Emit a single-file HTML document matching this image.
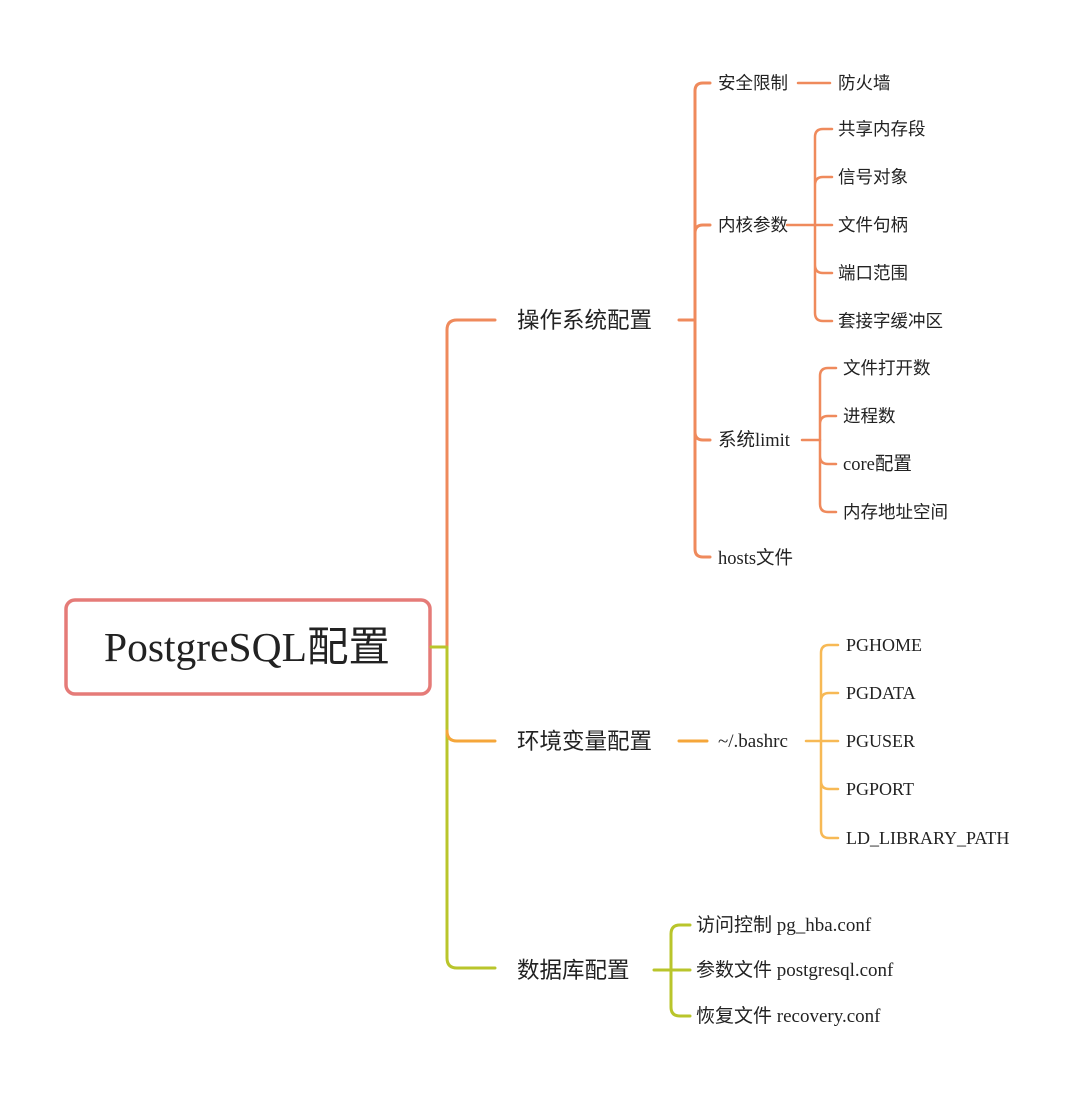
<!DOCTYPE html>
<html><head><meta charset="utf-8"><style>
html,body{margin:0;padding:0;background:#fff;}
svg{display:block;}
.s{font-family:"Liberation Sans","Noto Sans CJK SC",sans-serif;fill:#222;}
.f{font-family:"Liberation Serif","Noto Sans CJK SC",serif;fill:#222;}
</style></head><body>
<svg width="1080" height="1100" viewBox="0 0 1080 1100" xmlns="http://www.w3.org/2000/svg">
<g fill="none" stroke-linecap="round" stroke-width="3">
  <rect x="66" y="600" width="364" height="94" rx="9" stroke="#e57b78" stroke-width="3.5"/>
  <line x1="431" y1="647" x2="447" y2="647" stroke="#b9c52b"/>
  <path d="M447 647 V330 Q447 320 457 320 H495" stroke="#ef8a5c"/>
  <path d="M447 647 V958 Q447 968 457 968 H495" stroke="#b9c52b"/>
  <path d="M447 731 Q447 741 457 741 H495" stroke="#f5a63a"/>

  <line x1="679" y1="320" x2="693" y2="320" stroke="#ef8a5c"/>
  <path d="M710 83 H703 Q695 83 695 91 V549 Q695 557 703 557 H710" stroke="#ef8a5c"/>
  <path d="M695 233 Q695 225 703 225 H710 M695 432 Q695 440 703 440 H710" stroke="#ef8a5c"/>
  <line x1="798" y1="83" x2="830" y2="83" stroke="#ef8a5c" stroke-width="2.5"/>
  <line x1="787" y1="225" x2="832" y2="225" stroke="#ef8a5c" stroke-width="2.5"/>
  <path d="M832 129 H823 Q815 129 815 137 V313 Q815 321 823 321 H832 M815 185 Q815 177 823 177 H832 M815 265 Q815 273 823 273 H832" stroke="#ef8a5c" stroke-width="2.5"/>
  <line x1="802" y1="440" x2="820" y2="440" stroke="#ef8a5c" stroke-width="2.5"/>
  <path d="M836 368 H828 Q820 368 820 376 V504 Q820 512 828 512 H836 M820 424 Q820 416 828 416 H836 M820 456 Q820 464 828 464 H836" stroke="#ef8a5c" stroke-width="2.5"/>

  <line x1="679" y1="741" x2="707" y2="741" stroke="#f5a63a"/>
  <line x1="806" y1="741" x2="838" y2="741" stroke="#f7b955" stroke-width="2.5"/>
  <path d="M838 645 H829 Q821 645 821 653 V830 Q821 838 829 838 H838 M821 701 Q821 693 829 693 H838 M821 781 Q821 789 829 789 H838" stroke="#f7b955" stroke-width="2.5"/>

  <line x1="654" y1="970" x2="690" y2="970" stroke="#b9c52b"/>
  <path d="M690 925 H680 Q671 925 671 934 V1007 Q671 1016 680 1016 H690" stroke="#b9c52b"/>
</g>

<text x="247" y="661" text-anchor="middle" class="f" font-size="41.5">PostgreSQL配置</text>

<g class="s" font-size="22.5">
<text x="517" y="328">操作系统配置</text>
<text x="517" y="749">环境变量配置</text>
<text x="517" y="978">数据库配置</text>
</g>

<g class="s" font-size="17.5">
<text x="718" y="89">安全限制</text>
<text x="718" y="231">内核参数</text>
<text x="718" y="446" class="f" font-size="18.5">系统limit</text>
<text x="718" y="564" class="f" font-size="18.5">hosts文件</text>
<text x="838" y="89">防火墙</text>
<text x="838" y="135">共享内存段</text>
<text x="838" y="183">信号对象</text>
<text x="838" y="231">文件句柄</text>
<text x="838" y="279">端口范围</text>
<text x="838" y="327">套接字缓冲区</text>
<text x="843" y="374">文件打开数</text>
<text x="843" y="422">进程数</text>
<text x="843" y="470" class="f" font-size="18.5">core配置</text>
<text x="843" y="518">内存地址空间</text>
</g>

<g class="f" font-size="18">
<text x="718" y="747" font-size="19">~/.bashrc</text>
<text x="846" y="651">PGHOME</text>
<text x="846" y="699">PGDATA</text>
<text x="846" y="747">PGUSER</text>
<text x="846" y="795">PGPORT</text>
<text x="846" y="844">LD_LIBRARY_PATH</text>
<text x="696" y="931" font-size="19">访问控制 pg_hba.conf</text>
<text x="696" y="976" font-size="19">参数文件 postgresql.conf</text>
<text x="696" y="1022" font-size="19">恢复文件 recovery.conf</text>
</g>
</svg>
</body></html>
